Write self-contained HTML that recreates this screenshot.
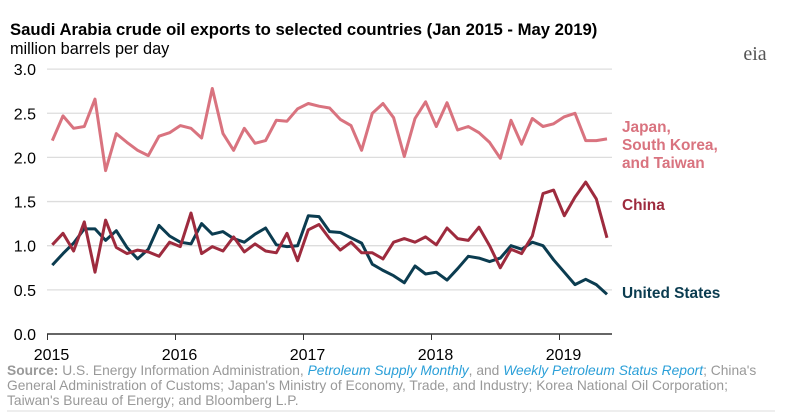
<!DOCTYPE html>
<html><head><meta charset="utf-8"><style>
body{margin:0;background:#fff;font-family:"Liberation Sans",Arial,sans-serif;}
svg{display:block}
</style></head><body>
<svg width="788" height="415" xmlns="http://www.w3.org/2000/svg" font-family="Liberation Sans, Arial, sans-serif">
<text x="10" y="35" font-size="16.7" font-weight="bold" fill="#000">Saudi Arabia crude oil exports to selected countries (Jan 2015 - May 2019)</text>
<text x="10" y="54" font-size="16.3" fill="#000">million barrels per day</text>
<text x="755" y="60" font-size="20" fill="#555" font-family="Liberation Serif, serif" text-anchor="middle">eia</text>
<g id="grid"></g>
<g id="series"></g>
<text x="622" y="132" font-size="15.4" font-weight="bold" fill="#d9737f">Japan,</text>
<text x="622" y="150" font-size="15.4" font-weight="bold" fill="#d9737f">South Korea,</text>
<text x="622" y="168" font-size="15.4" font-weight="bold" fill="#d9737f">and Taiwan</text>
<text x="622" y="210" font-size="15.4" font-weight="bold" fill="#9e2b3e">China</text>
<text x="622" y="298" font-size="15.4" font-weight="bold" fill="#0b3c50">United States</text>
<text x="7" y="375" font-size="13.8" fill="#999"><tspan font-weight="bold">Source:</tspan> U.S. Energy Information Administration, <tspan fill="#2a9fd8" font-style="italic">Petroleum Supply Monthly</tspan>, and <tspan fill="#2a9fd8" font-style="italic">Weekly Petroleum Status Report</tspan>; China's</text>
<text x="7" y="390" font-size="13.8" fill="#999">General Administration of Customs; Japan's Ministry of Economy, Trade, and Industry; Korea National Oil Corporation;</text>
<text x="7" y="405" font-size="13.8" fill="#999">Taiwan's Bureau of Energy; and Bloomberg L.P.</text>
<line x1="7" y1="411" x2="775" y2="411" stroke="#ddd" stroke-width="1"/>
</svg>
<script>
const years=[2015,2016,2017,2018,2019];
const yTicks=[0,0.5,1,1.5,2,2.5,3];
const yTickLabels=["0.0","0.5","1.0","1.5","2.0","2.5","3.0"];
const japan=[2.19,2.47,2.33,2.35,2.66,1.85,2.27,2.17,2.08,2.02,2.24,2.28,2.36,2.33,2.22,2.78,2.27,2.08,2.33,2.16,2.19,2.42,2.41,2.55,2.61,2.58,2.56,2.43,2.36,2.08,2.50,2.61,2.45,2.01,2.44,2.63,2.35,2.62,2.31,2.35,2.28,2.17,1.99,2.42,2.15,2.44,2.35,2.38,2.46,2.50,2.19,2.19,2.21];
const china=[1.01,1.14,0.94,1.27,0.70,1.29,0.98,0.91,0.95,0.93,0.88,1.04,0.99,1.37,0.91,0.99,0.94,1.10,0.93,1.02,0.94,0.92,1.14,0.83,1.18,1.24,1.08,0.95,1.04,0.92,0.92,0.85,1.04,1.08,1.04,1.10,1.01,1.20,1.08,1.06,1.21,1.00,0.75,0.96,0.91,1.11,1.59,1.63,1.34,1.55,1.72,1.53,1.09];
const us=[0.78,0.91,1.03,1.19,1.19,1.06,1.17,0.98,0.85,0.96,1.23,1.11,1.04,1.02,1.25,1.13,1.16,1.08,1.04,1.13,1.20,1.01,0.99,1.00,1.34,1.33,1.16,1.15,1.09,1.03,0.79,0.72,0.66,0.58,0.77,0.68,0.70,0.61,0.74,0.88,0.86,0.82,0.86,1.00,0.96,1.04,1.00,0.84,0.70,0.56,0.62,0.56,0.45];
const NS="http://www.w3.org/2000/svg";
const yScale=v=>334-88.3*v;
const yearX=y=>47.5+128*(y-2015);
const monthX=i=>47.5+10.667*(i+0.45);
const grid=document.getElementById('grid');
function mk(tag,attrs,parent){const e=document.createElementNS(NS,tag);for(const k in attrs)e.setAttribute(k,attrs[k]);parent.appendChild(e);return e;}
yTicks.forEach((t,k)=>{
  if(t>0){const g=mk('line',{x1:47,x2:612,y1:yScale(t),y2:yScale(t),stroke:'#ddd','stroke-width':1.3},grid);
  
  }
  const tx=mk('text',{x:36,y:yScale(t)+6,'font-size':16,'text-anchor':'end',fill:'#000'},grid);
  tx.textContent=yTickLabels[k];
  
  
});
const ax=mk('line',{x1:47,x2:612,y1:334,y2:334,stroke:'#333','stroke-width':1.5},grid);


years.forEach(y=>{
  const t=mk('line',{x1:yearX(y),x2:yearX(y),y1:334,y2:340,stroke:'#333','stroke-width':1},grid);
  
  
  const tx=mk('text',{x:yearX(y)+4,y:360,'font-size':16,'text-anchor':'middle',fill:'#000'},grid);
  tx.textContent=y;
  
  
});
const ser=document.getElementById('series');
[[japan,'#d9737f','line-japan-korea-taiwan'],[us,'#0b3c50','line-united-states'],[china,'#9e2b3e','line-china']].forEach(([d,c,n])=>{
  const p=mk('polyline',{points:d.map((v,i)=>monthX(i).toFixed(1)+','+yScale(v).toFixed(1)).join(' '),fill:'none',stroke:c,'stroke-width':3,'stroke-linejoin':'round'},ser);
  
  
});
</script>
</body></html>
